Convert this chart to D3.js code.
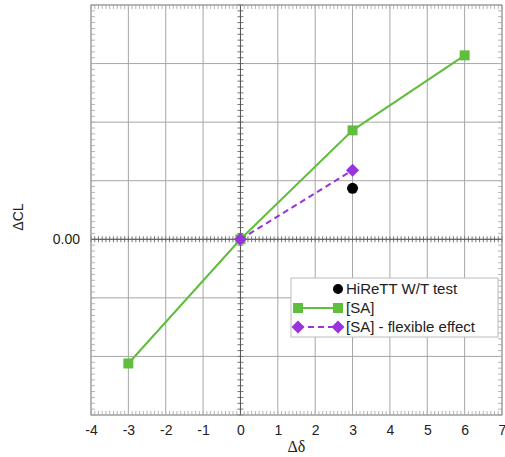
<!DOCTYPE html>
<html>
<head>
<meta charset="utf-8">
<script src="https://cdn.jsdelivr.net/npm/d3@7"></script>
<style>
  html, body { margin: 0; padding: 0; background: #fff; }
  svg { display: block; }
  text { font-family: "Liberation Sans", Arial, sans-serif; fill: #222; }
</style>
</head>
<body>
<svg id="chart" width="505" height="457"></svg>
<script>
// Control deflection increment vs. lift coefficient increment
const saDelta = [-3, 0, 3, 6];
const saDCL = [-0.212, 0, 0.186, 0.314];
const flexDelta = [0, 3];
const flexDCL = [0, 0.118];
const testDelta = [3];
const testDCL = [0.087];
const xTicks = [-4, -3, -2, -1, 0, 1, 2, 3, 4, 5, 6, 7];
const yGrid = [-0.3, -0.2, -0.1, 0, 0.1, 0.2, 0.3, 0.4];
const yLabels = [0];
const legendLabels = ["HiReTT W/T test", "[SA]", "[SA] - flexible effect"];

const green = "#5fbe3c";
const purple = "#9933dd";

const svg = d3.select("#chart");
const m = { left: 91, right: 502, top: 5, bottom: 415 };

const x = d3.scaleLinear().domain([-4, 7]).range([m.left, m.right]);
const y = d3.scaleLinear().domain([-0.3, 0.4]).range([m.bottom, m.top]);

const g = svg.append("g");

// major grid
g.append("g").selectAll("line").data(xTicks).join("line")
  .attr("x1", d => x(d)).attr("x2", d => x(d))
  .attr("y1", m.top).attr("y2", m.bottom)
  .attr("stroke", "#a6a6a6").attr("stroke-width", 1);
g.append("g").selectAll("line").data(yGrid).join("line")
  .attr("y1", d => y(d)).attr("y2", d => y(d))
  .attr("x1", m.left).attr("x2", m.right)
  .attr("stroke", "#a6a6a6").attr("stroke-width", 1);

// minor ticks along the frame and the zero axes
const xMinor = d3.range(-40, 71).map(i => i / 10);
const yMinor = d3.range(-30, 41).map(i => i / 100);
const tickCol = "#b5b5b5";
const minor = g.append("g").attr("stroke", tickCol).attr("stroke-width", 1);
minor.selectAll(".xb").data(xMinor).join("line").attr("class", "xb")
  .attr("x1", d => x(d)).attr("x2", d => x(d))
  .attr("y1", m.bottom - 4).attr("y2", m.bottom);
minor.selectAll(".xt").data(xMinor).join("line").attr("class", "xt")
  .attr("x1", d => x(d)).attr("x2", d => x(d))
  .attr("y1", m.top).attr("y2", m.top + 4);
minor.selectAll(".yl").data(yMinor).join("line").attr("class", "yl")
  .attr("y1", d => y(d)).attr("y2", d => y(d))
  .attr("x1", m.left).attr("x2", m.left + 4);
minor.selectAll(".yr").data(yMinor).join("line").attr("class", "yr")
  .attr("y1", d => y(d)).attr("y2", d => y(d))
  .attr("x1", m.right - 4).attr("x2", m.right);
const zero = g.append("g").attr("stroke", "#777").attr("stroke-width", 1);
zero.selectAll(".zx").data(xMinor).join("line").attr("class", "zx")
  .attr("x1", d => x(d)).attr("x2", d => x(d))
  .attr("y1", y(0) - 3).attr("y2", y(0) + 3);
zero.selectAll(".zy").data(yMinor).join("line").attr("class", "zy")
  .attr("y1", d => y(d)).attr("y2", d => y(d))
  .attr("x1", x(0) - 3).attr("x2", x(0) + 3);
zero.append("line").attr("x1", m.left).attr("x2", m.right)
  .attr("y1", y(0)).attr("y2", y(0)).attr("stroke", "#555");
zero.append("line").attr("x1", x(0)).attr("x2", x(0))
  .attr("y1", m.top).attr("y2", m.bottom).attr("stroke", "#555");

// frame
g.append("rect").attr("x", m.left).attr("y", m.top)
  .attr("width", m.right - m.left).attr("height", m.bottom - m.top)
  .attr("fill", "none").attr("stroke", "#999");

// axes labels (plain hyphen for negatives)
const fmtInt = d => String(d);
const xAxis = d3.axisBottom(x).tickValues(xTicks).tickSize(0).tickPadding(10)
  .tickFormat(fmtInt);
const xa = svg.append("g").attr("transform", `translate(0,${m.bottom})`).call(xAxis);
xa.select(".domain").remove();
xa.selectAll("text").attr("font-size", 14).attr("font-family", "Liberation Sans, Arial, sans-serif").attr("fill", "#222");

const yAxis = d3.axisLeft(y).tickValues(yLabels).tickSize(0).tickPadding(11)
  .tickFormat(d3.format(".2f"));
const ya = svg.append("g").attr("transform", `translate(${m.left},0)`).call(yAxis);
ya.select(".domain").remove();
ya.selectAll("text").attr("font-size", 14).attr("font-family", "Liberation Sans, Arial, sans-serif").attr("fill", "#222");

svg.append("text").attr("x", x(1.5)).attr("y", 452).attr("text-anchor", "middle")
  .attr("font-size", 16).style("font-family", "'Liberation Serif', 'Times New Roman', serif")
  .text("Δδ");
svg.append("text").attr("transform", `translate(23,217) rotate(-90)`)
  .attr("text-anchor", "middle").attr("font-size", 14).text("ΔCL");

// series
const line = d3.line().x(d => x(d[0])).y(d => y(d[1]));
const saPts = saDelta.map((d, i) => [d, saDCL[i]]);
const flexPts = flexDelta.map((d, i) => [d, flexDCL[i]]);
const testPts = testDelta.map((d, i) => [d, testDCL[i]]);

svg.append("path").datum(saPts).attr("d", line)
  .attr("fill", "none").attr("stroke", green).attr("stroke-width", 2);
svg.append("path").datum(flexPts).attr("d", line)
  .attr("fill", "none").attr("stroke", purple).attr("stroke-width", 2)
  .attr("stroke-dasharray", "6,4");

const sq = d3.symbol().type(d3.symbolSquare).size(100);
const dia = d3.symbol().type(d3.symbolSquare).size(85); // rotated 45° below
svg.selectAll(".sa").data(saPts).join("path").attr("class", "sa")
  .attr("d", sq).attr("transform", d => `translate(${x(d[0])},${y(d[1])})`)
  .attr("fill", green);
svg.selectAll(".fl").data(flexPts).join("path").attr("class", "fl")
  .attr("d", dia).attr("transform", d => `translate(${x(d[0])},${y(d[1])}) rotate(45)`)
  .attr("fill", purple);
svg.selectAll(".ts").data(testPts).join("circle").attr("class", "ts")
  .attr("cx", d => x(d[0])).attr("cy", d => y(d[1])).attr("r", 5.5)
  .attr("fill", "#000");

// legend
const lg = svg.append("g").attr("transform", "translate(291,278)");
lg.append("rect").attr("width", 207).attr("height", 59)
  .attr("fill", "#fff").attr("stroke", "#bbb");
const rows = [11, 30, 49];
lg.append("circle").attr("cx", 47).attr("cy", rows[0]).attr("r", 5).attr("fill", "#000");
lg.append("line").attr("x1", 7).attr("x2", 47).attr("y1", rows[1]).attr("y2", rows[1])
  .attr("stroke", green).attr("stroke-width", 2);
lg.selectAll(".lsq").data([7, 47]).join("path").attr("class", "lsq")
  .attr("d", sq).attr("transform", d => `translate(${d},${rows[1]})`).attr("fill", green);
lg.append("line").attr("x1", 7).attr("x2", 47).attr("y1", rows[2]).attr("y2", rows[2])
  .attr("stroke", purple).attr("stroke-width", 2).attr("stroke-dasharray", "6,4");
lg.selectAll(".ldi").data([7, 47]).join("path").attr("class", "ldi")
  .attr("d", dia).attr("transform", d => `translate(${d},${rows[2]}) rotate(45)`).attr("fill", purple);
lg.selectAll(".lt").data(legendLabels).join("text").attr("class", "lt")
  .attr("x", 55).attr("y", (d, i) => rows[i] + 5).attr("font-size", 15)
  .text(d => d);
</script>
</body>
</html>
